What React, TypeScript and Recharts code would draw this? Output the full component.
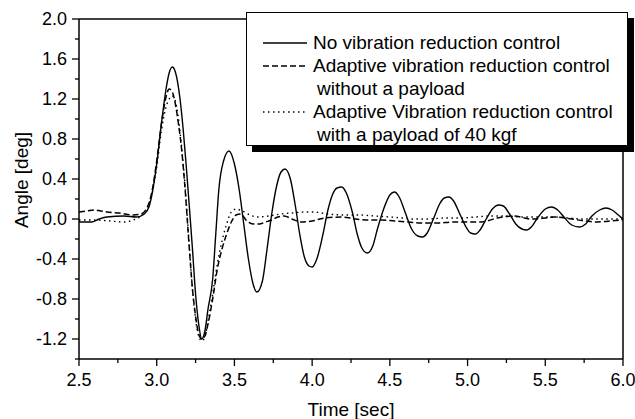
import React from 'react';
import { LineChart, Line, XAxis, YAxis } from 'recharts';

// ---- data (time in sec, angle in deg) ----
const noCtrlT = [2.5, 2.58, 2.63, 2.68, 2.79, 2.87, 2.92, 2.95, 2.97, 3.0, 3.03, 3.06, 3.08, 3.1, 3.12, 3.15, 3.17, 3.19, 3.21, 3.23, 3.25, 3.27, 3.29, 3.31, 3.33, 3.36, 3.38, 3.4, 3.43, 3.465, 3.5, 3.53, 3.56, 3.59, 3.62, 3.645, 3.68, 3.71, 3.74, 3.77, 3.8, 3.825, 3.86, 3.89, 3.92, 3.95, 3.98, 4.0, 4.03, 4.07, 4.1, 4.13, 4.16, 4.19, 4.22, 4.26, 4.29, 4.32, 4.355, 4.39, 4.42, 4.46, 4.5, 4.53, 4.56, 4.6, 4.64, 4.68, 4.71, 4.74, 4.78, 4.82, 4.85, 4.88, 4.91, 4.95, 4.99, 5.02, 5.05, 5.08, 5.12, 5.16, 5.2, 5.23, 5.27, 5.31, 5.35, 5.38, 5.41, 5.45, 5.5, 5.54, 5.58, 5.62, 5.67, 5.72, 5.76, 5.8, 5.85, 5.89, 5.93, 5.97, 6.0];
const noCtrlV = [-0.03, -0.03, 0.0, 0.02, 0.03, 0.02, 0.05, 0.12, 0.25, 0.55, 0.95, 1.3, 1.46, 1.52, 1.47, 1.2, 0.9, 0.53, 0.12, -0.3, -0.75, -1.05, -1.2, -1.12, -0.9, -0.6, -0.15, 0.3, 0.58, 0.68, 0.55, 0.3, -0.05, -0.4, -0.65, -0.73, -0.62, -0.3, 0.05, 0.32, 0.47, 0.5, 0.4, 0.15, -0.15, -0.38, -0.47, -0.48, -0.4, -0.15, 0.08, 0.24, 0.31, 0.32, 0.26, 0.06, -0.15, -0.29, -0.34, -0.27, -0.1, 0.1, 0.24, 0.27, 0.22, 0.06, -0.1, -0.17, -0.18, -0.14, 0.0, 0.15, 0.21, 0.22, 0.18, 0.05, -0.08, -0.14, -0.15, -0.11, 0.0, 0.1, 0.14, 0.13, 0.05, -0.05, -0.1, -0.11, -0.08, 0.01, 0.1, 0.12, 0.09, 0.02, -0.06, -0.08, -0.05, 0.03, 0.09, 0.11, 0.09, 0.04, 0.0];

const noPayloadT = [2.5, 2.55, 2.6, 2.64, 2.68, 2.76, 2.85, 2.9, 2.94, 2.97, 3.0, 3.03, 3.06, 3.08, 3.1, 3.12, 3.14, 3.16, 3.18, 3.21, 3.23, 3.25, 3.27, 3.29, 3.31, 3.33, 3.36, 3.39, 3.42, 3.45, 3.48, 3.51, 3.54, 3.58, 3.62, 3.66, 3.7, 3.74, 3.78, 3.82, 3.87, 3.93, 4.0, 4.08, 4.19, 4.28, 4.36, 4.45, 4.53, 4.62, 4.7, 4.8, 4.91, 5.0, 5.09, 5.19, 5.3, 5.41, 5.5, 5.56, 5.67, 5.76, 5.83, 5.92, 6.0];
const noPayloadV = [0.07, 0.08, 0.09, 0.08, 0.07, 0.06, 0.04, 0.05, 0.12, 0.28, 0.58, 0.95, 1.22, 1.3, 1.27, 1.15, 0.95, 0.7, 0.35, -0.3, -0.7, -0.97, -1.15, -1.2, -1.17, -1.05, -0.8, -0.5, -0.3, -0.15, -0.03, 0.04, 0.05, -0.02, -0.05, -0.05, -0.03, -0.01, 0.02, 0.03, 0.0, -0.03, -0.02, 0.01, 0.02, 0.0, -0.01, -0.01, -0.02, -0.03, -0.04, -0.04, -0.03, -0.03, -0.03, 0.01, 0.03, 0.0, 0.01, 0.02, 0.0, -0.02, -0.03, -0.02, -0.01];

const payloadT = [2.5, 2.6, 2.7, 2.79, 2.85, 2.9, 2.94, 2.97, 3.0, 3.03, 3.06, 3.09, 3.1, 3.12, 3.14, 3.16, 3.18, 3.21, 3.23, 3.25, 3.27, 3.29, 3.31, 3.33, 3.36, 3.39, 3.42, 3.45, 3.48, 3.51, 3.55, 3.6, 3.65, 3.72, 3.8, 3.87, 3.95, 4.01, 4.1, 4.22, 4.3, 4.4, 4.5, 4.58, 4.65, 4.75, 4.85, 4.95, 5.05, 5.15, 5.24, 5.35, 5.45, 5.56, 5.65, 5.75, 5.85, 5.95, 6.0];
const payloadV = [-0.01, -0.01, -0.02, -0.03, -0.01, 0.03, 0.1, 0.25, 0.52, 0.88, 1.12, 1.22, 1.23, 1.18, 1.0, 0.72, 0.38, -0.28, -0.7, -1.0, -1.17, -1.22, -1.18, -1.02, -0.75, -0.45, -0.22, -0.05, 0.07, 0.1, 0.08, 0.04, 0.02, 0.03, 0.05, 0.06, 0.07, 0.07, 0.05, 0.04, 0.04, 0.03, 0.02, 0.01, 0.0, 0.0, 0.01, 0.01, 0.02, 0.03, 0.03, 0.02, 0.02, 0.02, 0.01, 0.0, 0.0, 0.0, 0.0];

const xTicks = [2.5, 2.75, 3.0, 3.25, 3.5, 3.75, 4.0, 4.25, 4.5, 4.75, 5.0, 5.25, 5.5, 5.75, 6.0];
const xTickLabels = ['2.5', '3.0', '3.5', '4.0', '4.5', '5.0', '5.5', '6.0'];
const yTicks = [-1.4, -1.2, -1.0, -0.8, -0.6, -0.4, -0.2, 0.0, 0.2, 0.4, 0.6, 0.8, 1.0, 1.2, 1.4, 1.6, 1.8, 2.0];
const yTickLabels = ['-1.2', '-0.8', '-0.4', '0.0', '0.4', '0.8', '1.2', '1.6', '2.0'];

const seriesNames = [
  'No vibration reduction control',
  'Adaptive vibration reduction control',
  'Adaptive Vibration reduction control',
];
const seriesNameCont = ['', 'without a payload', 'with a payload of 40 kgf'];
const xTitle = 'Time [sec]';
const yTitle = 'Angle [deg]';

const toRows = (t: number[], v: number[]) => t.map((x, i) => ({ t: x, v: v[i] }));
const noCtrlData = toRows(noCtrlT, noCtrlV);
const noPayloadData = toRows(noPayloadT, noPayloadV);
const payloadData = toRows(payloadT, payloadV);

const FONT = '"Liberation Sans", Arial, Helvetica, sans-serif';
const dashes = [undefined, '6 3', '1.5 3.5'];

const fmt = (v: number) => (Math.abs(v) < 1e-9 ? 0 : v).toFixed(1);

const XTick = (props: any) => {
  const { x, y, payload } = props;
  const label = fmt(payload.value);
  const major = xTickLabels.includes(label);
  const axisY = y - 14;
  return (
    <g>
      <line x1={x} x2={x} y1={axisY} y2={axisY + (major ? 7 : 4)} stroke="#000" strokeWidth={1.3} />
      {major && (
        <text x={x} y={y} dy="0.72em" textAnchor="middle" fontFamily={FONT} fontSize={18} fill="#000">
          {label}
        </text>
      )}
    </g>
  );
};

const YTick = (props: any) => {
  const { x, y, payload } = props;
  const label = fmt(payload.value);
  const major = yTickLabels.includes(label);
  const axisX = x + 12;
  return (
    <g>
      <line x1={axisX - (major ? 7 : 4)} x2={axisX} y1={y} y2={y} stroke="#000" strokeWidth={1.3} />
      {major && (
        <text x={x} y={y} dy="0.36em" textAnchor="end" fontFamily={FONT} fontSize={18} fill="#000">
          {label}
        </text>
      )}
    </g>
  );
};

const Sample = ({ i }: { i: number }) => (
  <svg width={44} height={10} style={{ display: 'block' }}>
    <line x1={0} x2={44} y1={5} y2={5} stroke="#000" strokeWidth={1.4} strokeDasharray={dashes[i]} />
  </svg>
);

const LegendBox = () => (
  <>
    <div
      style={{
        position: 'absolute',
        left: 252,
        top: 18,
        width: 382,
        height: 134,
        background: '#000',
      }}
    />
    <div
      style={{
        position: 'absolute',
        left: 246,
        top: 12,
        width: 380,
        height: 114,
        border: '1px solid #000',
        background: '#fff',
        fontFamily: FONT,
        fontSize: 19,
        lineHeight: '23px',
        color: '#000',
        paddingTop: 18,
        boxSizing: 'content-box',
      }}
    >
      {seriesNames.map((name, i) => (
        <div key={i}>
          <div style={{ display: 'flex', alignItems: 'center', height: 23 }}>
            <div style={{ width: 16 }} />
            <Sample i={i} />
            <div style={{ width: 6 }} />
            <span style={{ whiteSpace: 'nowrap' }}>{name}</span>
          </div>
          {seriesNameCont[i] && (
            <div style={{ height: 23, paddingLeft: 70, whiteSpace: 'nowrap' }}>{seriesNameCont[i]}</div>
          )}
        </div>
      ))}
    </div>
  </>
);

export default function App() {
  return (
    <div style={{ position: 'absolute', left: 0, top: 0, width: 635, height: 419, background: '#fff', overflow: 'hidden' }}>
      <LineChart width={635} height={419} margin={{ top: 19, right: 12, bottom: 0, left: 0 }}>
        <XAxis
          dataKey="t"
          type="number"
          domain={[2.5, 6.0]}
          ticks={xTicks}
          interval={0}
          allowDataOverflow
          height={60}
          tickSize={7}
          tickMargin={7}
          tickLine={false}
          axisLine={{ stroke: '#000', strokeWidth: 1.5 }}
          tick={<XTick />}
          label={(p: any) => {
            const vb = p.viewBox;
            return (
              <text x={vb.x + vb.width / 2} y={vb.y + 57} textAnchor="middle" fontFamily={FONT} fontSize={19} fill="#000">
                {xTitle}
              </text>
            );
          }}
        />
        <XAxis
          xAxisId="top"
          orientation="top"
          mirror
          dataKey="t"
          type="number"
          domain={[2.5, 6.0]}
          ticks={xTicks}
          allowDataOverflow
          tick={false}
          tickSize={3}
          tickLine={{ stroke: '#000', strokeWidth: 1.2 }}
          axisLine={{ stroke: '#000', strokeWidth: 1.5 }}
        />
        <YAxis
          type="number"
          domain={[-1.4, 2.0]}
          ticks={yTicks}
          interval={0}
          allowDataOverflow
          width={79}
          tickSize={7}
          tickMargin={5}
          tickLine={false}
          axisLine={{ stroke: '#000', strokeWidth: 1.5 }}
          tick={<YTick />}
          label={(p: any) => {
            const vb = p.viewBox;
            const cx = vb.x + 21;
            const cy = 180;
            return (
              <text x={cx} y={cy} transform={`rotate(-90 ${cx} ${cy})`} dy="0.36em" textAnchor="middle" fontFamily={FONT} fontSize={19} fill="#000">
                {yTitle}
              </text>
            );
          }}
        />
        <YAxis
          yAxisId="right"
          orientation="right"
          mirror
          type="number"
          domain={[-1.4, 2.0]}
          ticks={yTicks}
          interval={0}
          allowDataOverflow
          tick={false}
          tickSize={4}
          tickLine={{ stroke: '#000', strokeWidth: 1.2 }}
          axisLine={{ stroke: '#000', strokeWidth: 1.5 }}
        />
        <Line data={payloadData} dataKey="v" type="monotone" stroke="#000" strokeWidth={1.4} strokeDasharray={dashes[2]} dot={false} isAnimationActive={false} />
        <Line data={noPayloadData} dataKey="v" type="monotone" stroke="#000" strokeWidth={1.5} strokeDasharray={dashes[1]} dot={false} isAnimationActive={false} />
        <Line data={noCtrlData} dataKey="v" type="monotone" stroke="#000" strokeWidth={1.4} dot={false} isAnimationActive={false} />
      </LineChart>
      <LegendBox />
    </div>
  );
}
